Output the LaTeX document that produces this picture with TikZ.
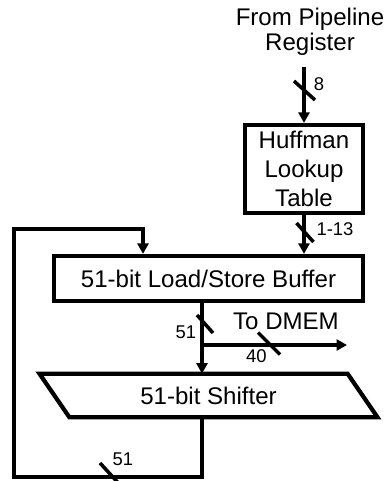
\documentclass[tikz,border=0pt]{standalone}
\usepackage{fontspec}
\setmainfont{Liberation Sans}
\usetikzlibrary{arrows.meta}

\begin{document}
\begin{tikzpicture}[
  x=0.02cm,y=-0.02cm,
  font=\fontsize{13.7}{16.5}\selectfont,
  block/.style={draw,line width=2.4pt,inner sep=0pt,align=center},
  wire/.style={line width=2.2pt},
  bus/.style={wire,-{Triangle[length=0.21cm,width=0.22cm]}},
  tick/.style={line width=2pt},
  buslabel/.style={font=\fontsize{10.5}{12}\selectfont,inner sep=0pt},
]
\useasboundingbox (0,0) rectangle (388,481);

% blocks
\node[align=center,font=\fontsize{13.7}{14.2}\selectfont] (src) at (310,32) {From Pipeline\\Register};
\node[block,minimum width=2.36cm,minimum height=1.76cm] (huff) at (304,169) {Huffman\\Lookup\\Table};
\node[block,minimum width=6.18cm,minimum height=0.9cm] (buf) at (208.5,278.5) {51-bit Load/Store Buffer};
\node[inner sep=0pt,minimum width=6.15cm,minimum height=0.86cm] (shift) at (208.5,395.5) {51-bit Shifter};
\draw[line width=2.4pt,line join=miter] ([xshift=-0.3cm]shift.north west) -- ([xshift=-0.3cm]shift.north east)
  -- ([xshift=0.3cm]shift.south east) -- ([xshift=0.3cm]shift.south west) -- cycle;
\node (todmem) at (286,321) {To DMEM};

% wires
\coordinate (entry) at (304,67);
\coordinate (tap) at (202,345);
\coordinate (dmem) at (347,345);
\coordinate (lb) at (14,477);
\coordinate (lt) at (14,229);
\coordinate (fb) at (143,229);
\draw[bus] (entry) -- (huff.north);
\draw[bus] (huff.south) -- (huff.south |- buf.north);
\draw[wire] (buf.south -| tap) -- (tap);
\draw[bus] (tap) -- (tap |- shift.north);
\draw[bus] (tap) -- (dmem);
\draw[bus] (shift.south -| tap) -- (tap |- lb) -- (lb) -- (lt) -- (fb) -- (fb |- buf.north);

% bus widths
\draw[tick] (304.5,90.5) +(-10.5,-9.5) -- +(10.5,9.5);
\draw[tick] (305,232.5) +(-8.5,-9.5) -- +(8.5,9.5);
\draw[tick] (205,324) +(-8,-9) -- +(8,9);
\draw[tick] (269,343.5) +(-11,-11) -- +(11,11);
\draw[tick] (111,475) +(-11,-12) -- +(11,12);
\node[buslabel] (w8) at (319,84) {8};
\node[buslabel] (w13) at (335,229) {1-13};
\node[buslabel] (w51a) at (186,332.5) {51};
\node[buslabel] (w40) at (256.5,356.5) {40};
\node[buslabel] (w51b) at (123,459) {51};
\end{tikzpicture}
\end{document}
